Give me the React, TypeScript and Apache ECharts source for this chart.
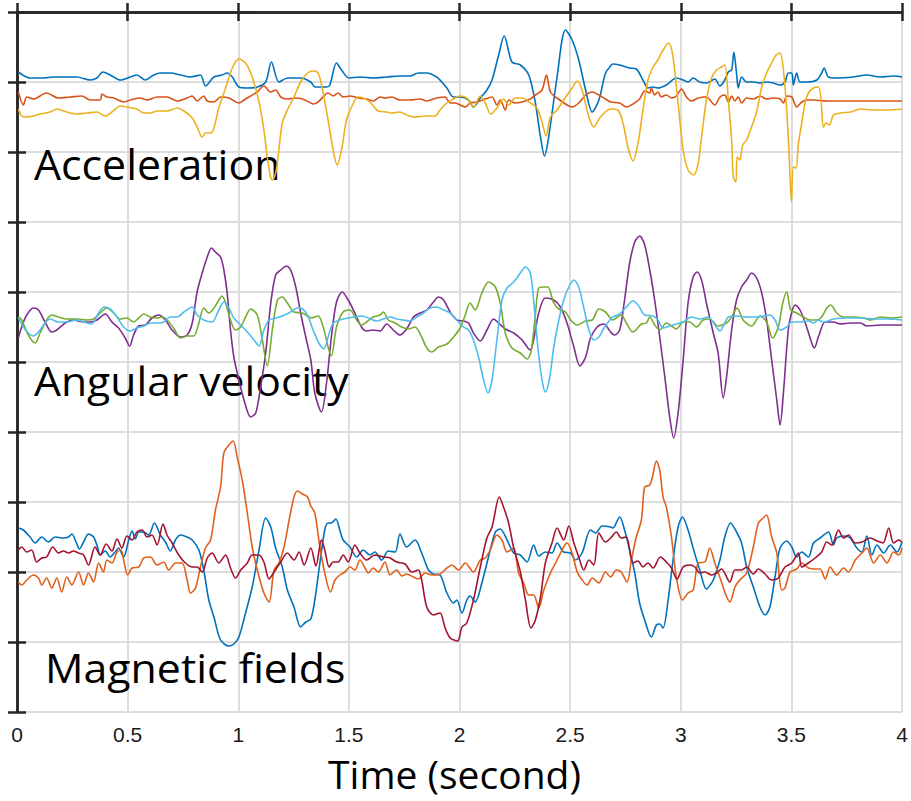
import React, { useEffect, useRef } from "react";
import * as echarts from "echarts";

type Pt = [number, number];

// Values: [time (s), level on a 0..700 scale, top = 0]
const accBlue: Pt[] = [[0.006,60],[0.059,66],[0.119,66],[0.165,65],[0.27,65],[0.331,68],[0.361,66],[0.388,60],[0.421,63],[0.467,68],[0.512,65],[0.542,63],[0.58,68],[0.618,63],[0.648,61],[0.693,61],[0.739,63],[0.784,65],[0.829,63],[0.852,74],[0.89,65],[0.927,63],[0.95,61],[0.973,65],[1.003,75],[1.041,76],[1.086,75],[1.124,70],[1.15,50],[1.184,70],[1.222,66],[1.282,66],[1.328,70],[1.346,75],[1.399,75],[1.414,73],[1.444,51],[1.467,58],[1.5,66],[1.55,65],[1.61,66],[1.671,65],[1.731,64],[1.776,64],[1.814,61],[1.852,61],[1.897,65],[1.92,70],[1.943,76],[1.973,85],[2.003,85],[2.041,88],[2.063,95],[2.094,86],[2.124,78],[2.147,68],[2.177,43],[2.202,24],[2.237,50],[2.275,53],[2.313,63],[2.343,91],[2.366,125],[2.384,144],[2.403,125],[2.441,65],[2.479,18],[2.509,28],[2.539,48],[2.57,78],[2.6,100],[2.63,88],[2.66,61],[2.683,54],[2.693,52],[2.724,53],[2.769,56],[2.799,57],[2.829,68],[2.852,76],[2.875,75],[2.897,76],[2.935,73],[2.98,66],[3.011,68],[3.033,70],[3.056,66],[3.086,70],[3.116,71],[3.154,67],[3.177,74],[3.199,68],[3.215,60],[3.23,58],[3.24,40],[3.252,61],[3.26,76],[3.275,65],[3.298,70],[3.328,70],[3.358,71],[3.388,70],[3.418,71],[3.449,73],[3.471,70],[3.486,61],[3.502,61],[3.509,73],[3.524,61],[3.539,70],[3.569,70],[3.615,68],[3.637,61],[3.648,56],[3.668,65],[3.705,66],[3.781,65],[3.841,63],[3.902,65],[3.962,64],[4,65]];

const accOrange: Pt[] = [[0.006,80],[0.029,93],[0.044,85],[0.074,87],[0.134,81],[0.187,86],[0.24,85],[0.293,84],[0.331,88],[0.376,88],[0.384,82],[0.406,85],[0.437,86],[0.482,90],[0.527,87],[0.557,86],[0.588,88],[0.633,85],[0.678,85],[0.724,89],[0.769,86],[0.792,84],[0.814,89],[0.844,84],[0.86,89],[0.89,90],[0.92,85],[0.958,86],[1.003,91],[1.026,88],[1.048,85],[1.086,80],[1.116,74],[1.147,80],[1.169,78],[1.192,85],[1.222,87],[1.26,86],[1.29,87],[1.328,91],[1.338,92],[1.361,90],[1.391,83],[1.406,81],[1.429,84],[1.452,81],[1.474,85],[1.505,84],[1.542,86],[1.58,87],[1.61,89],[1.641,85],[1.663,86],[1.694,85],[1.731,88],[1.776,88],[1.822,87],[1.852,89],[1.897,86],[1.935,85],[1.958,91],[1.98,91],[2.003,93],[2.026,95],[2.048,91],[2.079,90],[2.116,87],[2.147,85],[2.169,93],[2.184,88],[2.207,98],[2.222,88],[2.252,91],[2.283,90],[2.32,87],[2.343,83],[2.373,78],[2.393,63],[2.411,80],[2.441,86],[2.486,93],[2.509,95],[2.539,91],[2.57,83],[2.6,80],[2.63,83],[2.66,87],[2.683,90],[2.724,91],[2.754,95],[2.784,92],[2.814,87],[2.837,79],[2.86,81],[2.867,76],[2.882,83],[2.897,80],[2.912,85],[2.935,83],[2.958,86],[2.98,84],[3.003,77],[3.026,85],[3.048,89],[3.079,86],[3.116,85],[3.154,93],[3.177,85],[3.199,83],[3.215,90],[3.23,84],[3.245,89],[3.26,85],[3.275,91],[3.298,86],[3.328,87],[3.358,84],[3.388,87],[3.418,86],[3.449,87],[3.464,91],[3.479,84],[3.502,85],[3.524,95],[3.547,90],[3.569,88],[3.6,88],[3.66,89],[3.721,89],[3.781,89],[3.841,89],[3.917,89],[4,89]];

const accYellow: Pt[] = [[0.006,97],[0.021,104],[0.044,105],[0.074,104],[0.104,102],[0.15,100],[0.18,97],[0.225,100],[0.27,102],[0.316,101],[0.361,100],[0.399,104],[0.429,100],[0.467,94],[0.497,95],[0.542,97],[0.573,101],[0.603,101],[0.633,99],[0.678,99],[0.724,96],[0.761,100],[0.792,106],[0.814,115],[0.837,125],[0.852,121],[0.875,121],[0.89,116],[0.912,96],[0.943,76],[0.973,56],[1.003,47],[1.033,51],[1.063,65],[1.094,90],[1.116,118],[1.131,145],[1.147,166],[1.154,168],[1.169,161],[1.18,145],[1.199,111],[1.222,98],[1.252,85],[1.282,70],[1.313,61],[1.338,59],[1.361,61],[1.384,81],[1.406,108],[1.429,138],[1.447,153],[1.467,138],[1.489,108],[1.512,95],[1.542,85],[1.565,86],[1.595,90],[1.633,99],[1.671,100],[1.693,101],[1.731,100],[1.761,103],[1.799,105],[1.844,104],[1.89,104],[1.912,98],[1.943,91],[1.973,87],[2,84],[2.033,86],[2.063,95],[2.094,84],[2.116,91],[2.142,102],[2.169,96],[2.199,87],[2.222,93],[2.252,86],[2.283,86],[2.32,91],[2.35,96],[2.373,110],[2.391,124],[2.411,105],[2.441,98],[2.471,88],[2.509,76],[2.532,69],[2.554,78],[2.585,105],[2.607,115],[2.637,105],[2.683,97],[2.716,98],[2.739,111],[2.761,135],[2.784,149],[2.807,131],[2.829,98],[2.852,68],[2.875,55],[2.897,48],[2.92,38],[2.946,31],[2.965,45],[2.988,91],[3.011,138],[3.033,158],[3.059,163],[3.079,151],[3.094,125],[3.116,88],[3.139,66],[3.162,58],[3.184,55],[3.199,53],[3.215,88],[3.23,128],[3.237,165],[3.249,170],[3.255,145],[3.267,148],[3.28,133],[3.298,128],[3.32,115],[3.343,100],[3.366,75],[3.388,61],[3.411,51],[3.431,43],[3.449,41],[3.464,58],[3.479,98],[3.491,148],[3.5,190],[3.509,155],[3.521,156],[3.532,131],[3.547,111],[3.562,91],[3.577,81],[3.6,76],[3.622,75],[3.633,85],[3.645,115],[3.657,111],[3.672,113],[3.69,103],[3.721,101],[3.766,100],[3.812,97],[3.872,98],[3.932,98],[4,97]];

const angPurple: Pt[] = [[0.006,326],[0.021,315],[0.044,303],[0.074,296],[0.097,298],[0.127,310],[0.157,320],[0.18,318],[0.218,311],[0.255,308],[0.301,310],[0.331,310],[0.361,308],[0.399,302],[0.429,310],[0.459,316],[0.489,326],[0.509,334],[0.527,323],[0.55,314],[0.58,313],[0.61,306],[0.64,303],[0.671,308],[0.701,318],[0.739,325],[0.769,323],[0.792,311],[0.814,280],[0.837,261],[0.86,245],[0.879,236],[0.897,240],[0.92,245],[0.935,258],[0.95,281],[0.965,318],[0.98,345],[1.003,368],[1.026,388],[1.056,405],[1.079,401],[1.101,375],[1.124,341],[1.147,291],[1.169,263],[1.192,258],[1.218,254],[1.237,258],[1.26,275],[1.282,301],[1.305,325],[1.328,348],[1.346,381],[1.376,400],[1.399,371],[1.421,325],[1.444,290],[1.47,280],[1.497,288],[1.527,301],[1.557,315],[1.58,319],[1.61,318],[1.641,319],[1.671,312],[1.701,318],[1.731,323],[1.761,317],[1.792,305],[1.822,301],[1.852,298],[1.882,290],[1.905,285],[1.928,288],[1.958,300],[1.988,308],[2.018,309],[2.041,311],[2.063,321],[2.094,329],[2.124,318],[2.154,307],[2.177,311],[2.207,317],[2.245,321],[2.283,328],[2.32,338],[2.335,328],[2.358,301],[2.388,286],[2.426,288],[2.456,295],[2.486,311],[2.517,335],[2.544,354],[2.57,345],[2.592,326],[2.622,315],[2.653,312],[2.683,320],[2.701,323],[2.724,318],[2.746,288],[2.769,251],[2.792,230],[2.814,224],[2.837,233],[2.86,258],[2.882,288],[2.905,325],[2.928,365],[2.95,405],[2.968,426],[2.988,401],[3.011,348],[3.033,291],[3.056,265],[3.074,260],[3.094,268],[3.116,291],[3.147,321],[3.169,341],[3.192,386],[3.207,365],[3.23,318],[3.252,288],[3.275,275],[3.298,268],[3.32,261],[3.343,266],[3.366,281],[3.388,308],[3.411,348],[3.434,388],[3.449,413],[3.464,381],[3.486,318],[3.502,300],[3.517,293],[3.539,298],[3.569,315],[3.592,331],[3.604,336],[3.622,325],[3.653,310],[3.69,310],[3.721,312],[3.766,311],[3.812,311],[3.841,314],[3.902,313],[4,313]];

const angGreen: Pt[] = [[0.006,305],[0.021,308],[0.051,323],[0.082,331],[0.104,321],[0.134,308],[0.157,303],[0.187,305],[0.225,307],[0.27,307],[0.316,308],[0.346,307],[0.376,301],[0.406,296],[0.437,301],[0.467,307],[0.497,306],[0.527,310],[0.55,306],[0.573,302],[0.603,305],[0.633,306],[0.656,305],[0.678,308],[0.708,316],[0.739,326],[0.769,324],[0.799,324],[0.822,311],[0.844,296],[0.867,301],[0.89,296],[0.912,288],[0.927,284],[0.943,291],[0.965,308],[0.988,318],[1.011,315],[1.033,305],[1.056,297],[1.086,303],[1.109,328],[1.131,354],[1.154,318],[1.177,288],[1.199,285],[1.222,291],[1.252,300],[1.29,301],[1.331,306],[1.361,304],[1.384,315],[1.406,335],[1.421,344],[1.444,315],[1.474,300],[1.505,298],[1.535,308],[1.557,313],[1.58,310],[1.61,305],[1.641,303],[1.656,300],[1.678,308],[1.709,311],[1.739,315],[1.769,317],[1.799,315],[1.829,325],[1.852,336],[1.875,340],[1.905,335],[1.943,332],[1.973,325],[2.003,316],[2.026,303],[2.048,291],[2.071,298],[2.101,281],[2.131,270],[2.162,275],[2.184,291],[2.207,321],[2.237,336],[2.275,341],[2.305,347],[2.323,340],[2.343,303],[2.358,276],[2.381,275],[2.399,275],[2.426,291],[2.449,297],[2.479,300],[2.502,308],[2.532,313],[2.57,309],[2.6,308],[2.63,297],[2.66,300],[2.693,308],[2.731,303],[2.754,311],[2.784,320],[2.822,312],[2.845,311],[2.86,305],[2.882,313],[2.905,318],[2.935,311],[2.958,314],[2.98,317],[3.011,310],[3.041,310],[3.071,315],[3.101,308],[3.131,307],[3.169,314],[3.207,311],[3.23,305],[3.255,296],[3.282,308],[3.32,314],[3.358,304],[3.388,310],[3.415,326],[3.441,315],[3.461,291],[3.479,280],[3.497,298],[3.524,301],[3.554,305],[3.585,308],[3.615,308],[3.637,305],[3.66,296],[3.678,293],[3.705,301],[3.736,305],[3.781,305],[3.826,306],[3.857,308],[3.902,305],[3.947,306],[4,305]];

const angCyan: Pt[] = [[0.006,306],[0.029,315],[0.051,321],[0.074,324],[0.097,320],[0.127,311],[0.15,307],[0.187,310],[0.225,310],[0.27,308],[0.316,311],[0.338,312],[0.369,301],[0.394,295],[0.421,297],[0.452,305],[0.482,315],[0.512,319],[0.542,316],[0.573,314],[0.603,311],[0.633,311],[0.663,310],[0.693,305],[0.724,305],[0.754,300],[0.792,295],[0.814,303],[0.844,308],[0.882,310],[0.912,298],[0.935,290],[0.958,296],[0.98,306],[1.011,313],[1.041,320],[1.071,328],[1.094,334],[1.116,318],[1.139,308],[1.169,306],[1.199,304],[1.237,300],[1.267,296],[1.29,297],[1.313,303],[1.338,318],[1.369,333],[1.387,337],[1.406,325],[1.429,311],[1.459,308],[1.497,306],[1.527,305],[1.557,304],[1.588,306],[1.625,309],[1.656,307],[1.686,305],[1.716,307],[1.746,308],[1.776,309],[1.807,305],[1.837,301],[1.867,296],[1.897,295],[1.928,298],[1.958,301],[1.988,308],[2.018,315],[2.041,318],[2.063,328],[2.086,345],[2.109,368],[2.129,381],[2.147,368],[2.169,328],[2.192,288],[2.215,276],[2.245,270],[2.275,261],[2.298,255],[2.32,261],[2.335,288],[2.354,335],[2.373,368],[2.388,380],[2.408,365],[2.426,335],[2.449,308],[2.471,288],[2.494,275],[2.517,268],[2.539,275],[2.562,296],[2.585,318],[2.607,328],[2.63,325],[2.653,316],[2.683,307],[2.693,305],[2.724,302],[2.754,295],[2.784,289],[2.807,293],[2.837,303],[2.875,304],[2.897,308],[2.92,316],[2.95,314],[2.98,312],[3.011,310],[3.048,305],[3.086,307],[3.124,305],[3.154,313],[3.177,319],[3.199,311],[3.215,305],[3.252,304],[3.298,305],[3.343,305],[3.373,304],[3.403,303],[3.426,308],[3.449,318],[3.479,315],[3.502,310],[3.539,310],[3.577,309],[3.6,311],[3.622,308],[3.645,310],[3.69,307],[3.751,306],[3.812,306],[3.872,307],[3.932,307],[4,308]];

const magBlue: Pt[] = [[0.006,516],[0.029,518],[0.059,525],[0.082,531],[0.112,525],[0.142,530],[0.172,525],[0.21,526],[0.233,525],[0.248,522],[0.267,530],[0.282,537],[0.301,530],[0.323,522],[0.346,525],[0.364,535],[0.376,543],[0.399,539],[0.421,545],[0.444,540],[0.459,536],[0.482,545],[0.505,528],[0.52,519],[0.535,527],[0.55,520],[0.573,520],[0.595,523],[0.621,511],[0.648,523],[0.671,530],[0.693,539],[0.716,528],[0.739,523],[0.769,525],[0.792,528],[0.822,538],[0.844,558],[0.867,588],[0.89,605],[0.92,628],[0.958,634],[0.98,632],[1.003,625],[1.033,601],[1.063,575],[1.094,538],[1.124,506],[1.147,515],[1.169,536],[1.199,555],[1.222,578],[1.252,595],[1.282,615],[1.305,610],[1.328,607],[1.346,588],[1.369,551],[1.391,518],[1.406,511],[1.421,511],[1.441,507],[1.459,518],[1.474,528],[1.505,535],[1.535,545],[1.565,538],[1.595,543],[1.618,540],[1.648,548],[1.678,539],[1.709,540],[1.731,522],[1.761,535],[1.799,528],[1.829,541],[1.86,558],[1.882,562],[1.912,563],[1.943,581],[1.973,591],[1.988,588],[2.011,601],[2.033,588],[2.048,584],[2.071,590],[2.101,571],[2.131,545],[2.162,520],[2.184,517],[2.215,528],[2.245,541],[2.275,543],[2.305,550],[2.335,533],[2.358,544],[2.388,540],[2.418,541],[2.441,531],[2.471,540],[2.502,541],[2.524,548],[2.554,541],[2.592,518],[2.615,521],[2.645,514],[2.683,515],[2.693,516],[2.724,505],[2.746,518],[2.769,538],[2.792,561],[2.814,591],[2.837,608],[2.867,625],[2.89,613],[2.905,612],[2.92,616],[2.943,588],[2.965,548],[2.988,515],[3.008,505],[3.033,518],[3.056,536],[3.086,558],[3.116,577],[3.147,568],[3.177,548],[3.199,525],[3.225,511],[3.252,520],[3.275,531],[3.298,555],[3.328,575],[3.358,595],[3.381,603],[3.403,595],[3.426,565],[3.449,536],[3.479,529],[3.502,535],[3.524,545],[3.547,540],[3.577,545],[3.6,531],[3.63,526],[3.668,520],[3.69,533],[3.705,526],[3.736,524],[3.766,526],[3.796,536],[3.819,540],[3.841,524],[3.864,543],[3.887,533],[3.917,541],[3.947,533],[3.977,540],[4,530]];

const magOrange: Pt[] = [[0.006,570],[0.021,573],[0.044,568],[0.074,563],[0.097,566],[0.112,573],[0.134,566],[0.157,576],[0.18,566],[0.202,580],[0.225,565],[0.248,573],[0.278,560],[0.301,573],[0.323,561],[0.346,570],[0.369,551],[0.391,560],[0.406,548],[0.429,551],[0.452,540],[0.47,538],[0.482,548],[0.5,563],[0.52,556],[0.55,555],[0.573,546],[0.603,545],[0.633,553],[0.663,550],[0.686,558],[0.716,551],[0.746,551],[0.769,568],[0.784,581],[0.807,576],[0.829,555],[0.852,536],[0.875,528],[0.897,498],[0.92,475],[0.935,441],[0.958,433],[0.977,429],[0.995,445],[1.018,468],[1.041,501],[1.063,535],[1.086,558],[1.116,581],[1.139,590],[1.162,558],[1.184,551],[1.207,535],[1.23,508],[1.252,485],[1.267,479],[1.29,482],[1.313,485],[1.328,494],[1.346,501],[1.369,535],[1.391,561],[1.417,580],[1.437,568],[1.459,563],[1.482,560],[1.505,555],[1.527,558],[1.55,548],[1.573,556],[1.588,561],[1.61,556],[1.633,560],[1.663,550],[1.686,563],[1.716,558],[1.739,564],[1.761,562],[1.792,565],[1.814,567],[1.844,561],[1.875,563],[1.912,562],[1.943,556],[1.965,553],[1.996,558],[2.026,551],[2.063,560],[2.094,548],[2.116,546],[2.139,538],[2.169,523],[2.192,528],[2.215,540],[2.245,536],[2.267,561],[2.29,571],[2.313,583],[2.335,583],[2.358,596],[2.381,578],[2.411,561],[2.441,548],[2.471,535],[2.486,531],[2.509,541],[2.532,560],[2.554,568],[2.577,573],[2.6,566],[2.63,571],[2.66,560],[2.683,565],[2.709,558],[2.731,560],[2.757,570],[2.777,548],[2.799,525],[2.822,508],[2.837,475],[2.86,473],[2.872,465],[2.89,449],[2.905,458],[2.92,485],[2.935,495],[2.958,525],[2.98,565],[3.008,588],[3.033,581],[3.056,578],[3.079,551],[3.109,550],[3.131,536],[3.154,551],[3.184,570],[3.204,583],[3.222,590],[3.245,575],[3.267,568],[3.298,561],[3.328,535],[3.351,511],[3.373,506],[3.388,503],[3.411,525],[3.434,541],[3.456,578],[3.471,576],[3.494,560],[3.524,557],[3.547,551],[3.577,556],[3.607,557],[3.63,557],[3.653,567],[3.675,555],[3.705,563],[3.736,556],[3.758,560],[3.789,548],[3.819,541],[3.841,536],[3.872,551],[3.902,543],[3.932,551],[3.962,540],[3.985,543],[4,536]];

const magRed: Pt[] = [[0.006,538],[0.021,535],[0.044,540],[0.066,538],[0.089,550],[0.112,546],[0.134,545],[0.162,535],[0.187,541],[0.21,539],[0.233,541],[0.255,539],[0.278,541],[0.301,543],[0.323,553],[0.353,535],[0.376,543],[0.403,532],[0.429,539],[0.452,527],[0.474,536],[0.497,524],[0.52,528],[0.542,520],[0.565,518],[0.588,525],[0.61,523],[0.633,533],[0.66,512],[0.678,523],[0.701,531],[0.731,543],[0.761,551],[0.792,555],[0.814,555],[0.837,560],[0.86,546],[0.882,541],[0.912,551],[0.943,543],[0.965,556],[0.988,566],[1.011,558],[1.041,551],[1.063,543],[1.094,543],[1.116,550],[1.139,567],[1.162,560],[1.192,550],[1.222,541],[1.252,548],[1.275,540],[1.298,553],[1.328,536],[1.351,554],[1.376,528],[1.391,538],[1.411,555],[1.429,550],[1.452,550],[1.474,543],[1.497,550],[1.527,533],[1.55,541],[1.58,548],[1.618,543],[1.656,545],[1.686,546],[1.716,550],[1.754,552],[1.784,560],[1.814,558],[1.829,568],[1.852,595],[1.882,603],[1.912,601],[1.935,616],[1.958,626],[1.991,629],[2.011,615],[2.033,611],[2.063,588],[2.094,555],[2.124,526],[2.147,515],[2.18,485],[2.199,495],[2.222,511],[2.245,536],[2.275,560],[2.298,588],[2.323,616],[2.343,608],[2.366,585],[2.388,551],[2.418,531],[2.441,516],[2.471,528],[2.494,514],[2.517,531],[2.539,545],[2.562,558],[2.585,548],[2.607,553],[2.63,521],[2.66,530],[2.683,526],[2.709,520],[2.731,526],[2.754,525],[2.784,551],[2.807,549],[2.829,555],[2.852,551],[2.875,556],[2.908,545],[2.935,550],[2.958,556],[2.983,567],[3.011,555],[3.041,553],[3.064,555],[3.086,561],[3.109,560],[3.139,563],[3.162,561],[3.184,557],[3.222,570],[3.245,558],[3.275,558],[3.298,555],[3.328,562],[3.351,557],[3.381,562],[3.411,568],[3.441,566],[3.471,555],[3.502,551],[3.532,541],[3.547,555],[3.577,551],[3.607,546],[3.637,540],[3.66,530],[3.683,533],[3.713,518],[3.736,526],[3.758,523],[3.789,531],[3.819,530],[3.857,526],[3.887,529],[3.914,531],[3.94,516],[3.962,531],[3.985,528],[4,530]];

const X_TICK_LABELS = ["0", "0.5", "1", "1.5", "2", "2.5", "3", "3.5", "4"];
const PANEL_LABELS = ["Acceleration", "Angular velocity", "Magnetic fields"];
const X_TITLE = "Time (second)";

const SERIES: { name: string; data: Pt[]; color: string }[] = [
  { name: "acc-x", data: accBlue, color: "#0072BD" },
  { name: "acc-y", data: accOrange, color: "#D95319" },
  { name: "acc-z", data: accYellow, color: "#EDB120" },
  { name: "gyro-x", data: angPurple, color: "#7E2F8E" },
  { name: "gyro-y", data: angGreen, color: "#77AC30" },
  { name: "gyro-z", data: angCyan, color: "#4DBEEE" },
  { name: "mag-x", data: magBlue, color: "#0072BD" },
  { name: "mag-y", data: magOrange, color: "#E0601C" },
  { name: "mag-z", data: magRed, color: "#A2142F" },
];

export default function App() {
  const ref = useRef<HTMLDivElement>(null);

  useEffect(() => {
    if (!ref.current) return;
    const chart = echarts.init(ref.current, null, { renderer: "svg" });
    const dark = "#262626";
    const axisLine = { show: true, lineStyle: { color: dark, width: 2.5 } };
    const axisTick = { show: true, inside: true, length: 9, lineStyle: { color: dark, width: 2.5 } };
    const splitLine = { show: true, lineStyle: { color: "#dddddd", width: 2 } };

    const labelPos = [
      { x: 34, y: 164, size: 42, sx: 1.02 },
      { x: 34, y: 380, size: 41, sx: 1.04 },
      { x: 45, y: 667, size: 41, sx: 1.045 },
    ];

    chart.setOption({
      animation: false,
      grid: { left: 17, right: 9, top: 12, bottom: 89, containLabel: false },
      xAxis: [
        {
          type: "value",
          min: 0,
          max: 4,
          interval: 0.5,
          position: "bottom",
          axisLine,
          axisTick,
          splitLine,
          axisLabel: {
            show: true,
            margin: 12,
            fontSize: 21,
            color: "#1a1a1a",
            fontFamily: "Liberation Sans, Arial, sans-serif",
            formatter: (v: number) => X_TICK_LABELS[Math.round(v * 2)] ?? String(v),
          },
          name: X_TITLE,
          nameLocation: "middle",
          nameGap: 42,
          nameTextStyle: { fontFamily: "Open Sans", fontSize: 39, color: "#000", padding: [0, 10, 0, 0] },
        },
        {
          type: "value",
          min: 0,
          max: 4,
          interval: 0.5,
          position: "top",
          axisLine,
          axisTick,
          splitLine: { show: false },
          axisLabel: { show: false },
        },
      ],
      yAxis: [
        {
          type: "value",
          inverse: true,
          min: 0,
          max: 700,
          interval: 70,
          position: "left",
          axisLine,
          axisTick,
          splitLine,
          axisLabel: { show: false },
        },
        {
          type: "value",
          inverse: true,
          min: 0,
          max: 700,
          interval: 70,
          position: "right",
          axisLine,
          axisTick,
          splitLine: { show: false },
          axisLabel: { show: false },
        },
      ],
      graphic: PANEL_LABELS.map((text, i) => ({
        type: "text",
        x: labelPos[i].x,
        y: labelPos[i].y,
        scaleX: labelPos[i].sx,
        z: 1,
        silent: true,
        style: {
          text,
          font: `${labelPos[i].size}px "Open Sans"`,
          fill: "#000",
          align: "left",
          verticalAlign: "middle",
        },
      })),
      series: SERIES.map((s) => ({
        type: "line",
        name: s.name,
        data: s.data,
        xAxisIndex: 0,
        yAxisIndex: 0,
        symbol: "none",
        showSymbol: false,
        smooth: 0.3,
        silent: true,
        z: 3,
        lineStyle: { color: s.color, width: 1.6 },
        itemStyle: { color: s.color },
      })),
    });

    return () => chart.dispose();
  }, []);

  return (
    <div
      ref={ref}
      style={{ position: "fixed", left: 0, top: 0, width: 911, height: 801, background: "#fff" }}
    />
  );
}
